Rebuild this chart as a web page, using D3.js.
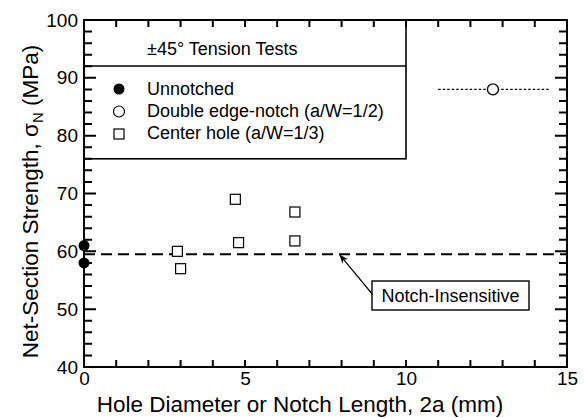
<!DOCTYPE html>
<html>
<head>
<meta charset="utf-8">
<script src="https://cdn.jsdelivr.net/npm/d3@7"></script>
<style>
  html, body { margin: 0; padding: 0; background: #fff; }
  svg { display: block; font-family: "Liberation Sans", Arial, Helvetica, sans-serif; }
</style>
</head>
<body>
<svg id="chart" width="584" height="418"></svg>
<script>
// Net-section strength of ±45° laminates vs. hole / notch size
const unnotchedX = [0, 0];
const unnotchedY = [61, 58];

const centerHoleX = [2.9, 3.0, 4.7, 4.8, 6.55, 6.55];
const centerHoleY = [60, 57, 69, 61.5, 66.8, 61.8];

const edgeNotchX = [12.7];
const edgeNotchY = [88];
const edgeNotchXMin = [11.0];
const edgeNotchXMax = [14.45];

const notchInsensitive = 59.5;

const xTicks = [0, 5, 10, 15];
const yTicks = [40, 50, 60, 70, 80, 90, 100];

const legendTitle = "±45° Tension Tests";
const legendLabels = ["Unnotched", "Double edge-notch (a/W=1/2)", "Center hole (a/W=1/3)"];

const FONT = "Liberation Sans, Arial, Helvetica, sans-serif";
const svg = d3.select("#chart");
const m = { left: 84, top: 20, right: 567, bottom: 367 };

const x = d3.scaleLinear().domain([0, 15]).range([m.left, m.right]);
const y = d3.scaleLinear().domain([40, 100]).range([m.bottom, m.top]);

const g = svg.append("g");

// Axis tick labels (tick marks drawn separately, inward)
const xAxis = d3.axisBottom(x).tickValues(xTicks).tickSize(0).tickPadding(5).tickFormat(d3.format("d"));
const xg = g.append("g").attr("transform", `translate(0,${m.bottom})`).call(xAxis);
xg.select(".domain").remove();
xg.selectAll("text").attr("font-size", 19).attr("font-family", FONT).attr("fill", "#000");

const yAxis = d3.axisLeft(y).tickValues(yTicks).tickSize(0).tickPadding(6).tickFormat(d3.format("d"));
const yg = g.append("g").attr("transform", `translate(${m.left},0)`).call(yAxis);
yg.select(".domain").remove();
yg.selectAll("text").attr("font-size", 19).attr("font-family", FONT).attr("fill", "#000");

// Axis titles
svg.append("text")
  .attr("x", 300).attr("y", 412)
  .attr("text-anchor", "middle").attr("font-size", 22.5).attr("font-family", FONT)
  .text("Hole Diameter or Notch Length, 2a (mm)");

const yt = svg.append("text")
  .attr("transform", `translate(38,${(m.top + m.bottom) / 2 + 8}) rotate(-90)`)
  .attr("text-anchor", "middle").attr("font-size", 22.5).attr("font-family", FONT);
yt.append("tspan").text("Net-Section Strength, σ");
yt.append("tspan").attr("font-size", 15).attr("dy", 5).text("N");
yt.append("tspan").attr("dy", -5).text(" (MPa)");

// Notch-insensitive reference line
g.append("line")
  .attr("x1", x(0)).attr("x2", x(15))
  .attr("y1", y(notchInsensitive)).attr("y2", y(notchInsensitive))
  .attr("stroke", "#000").attr("stroke-width", 1.8).attr("stroke-dasharray", "11,6");

// Edge-notch range bar
edgeNotchX.forEach((v, i) => {
  g.append("line")
    .attr("x1", x(edgeNotchXMin[i])).attr("x2", x(edgeNotchXMax[i]))
    .attr("y1", y(edgeNotchY[i])).attr("y2", y(edgeNotchY[i]))
    .attr("stroke", "#000").attr("stroke-width", 1.3).attr("stroke-dasharray", "2.5,2");
});

// Center hole squares
g.selectAll(".sq").data(centerHoleX).enter().append("rect")
  .attr("x", (d) => x(d) - 5).attr("y", (d, i) => y(centerHoleY[i]) - 5)
  .attr("width", 10).attr("height", 10)
  .attr("fill", "#fff").attr("stroke", "#000").attr("stroke-width", 1.2);

// Edge notch open circles
g.selectAll(".oc").data(edgeNotchX).enter().append("circle")
  .attr("cx", (d) => x(d)).attr("cy", (d, i) => y(edgeNotchY[i])).attr("r", 5.5)
  .attr("fill", "#fff").attr("stroke", "#000").attr("stroke-width", 1.3);

// Unnotched filled circles
g.selectAll(".fc").data(unnotchedX).enter().append("circle")
  .attr("cx", (d) => x(d)).attr("cy", (d, i) => y(unnotchedY[i])).attr("r", 5.5)
  .attr("fill", "#000");

// Legend box
const lgTop = m.top, lgBottom = y(76), lgRight = 406;
g.append("rect")
  .attr("x", m.left).attr("y", lgTop).attr("width", lgRight - m.left).attr("height", lgBottom - lgTop)
  .attr("fill", "#fff").attr("stroke", "#000").attr("stroke-width", 1.6);
g.append("line")
  .attr("x1", m.left).attr("x2", lgRight).attr("y1", 66).attr("y2", 66)
  .attr("stroke", "#000").attr("stroke-width", 1.6);

svg.append("text").attr("x", 147).attr("y", 55).attr("font-size", 18).attr("font-family", FONT).text(legendTitle);

const legSymY = [89, 111.5, 134];
const legTextY = [94.5, 116.5, 138.5];
legendLabels.forEach((t, i) => {
  svg.append("text").attr("x", 147).attr("y", legTextY[i]).attr("font-size", 18).attr("font-family", FONT).text(t);
});
g.append("circle").attr("cx", 119).attr("cy", legSymY[0]).attr("r", 5.5).attr("fill", "#000");
g.append("circle").attr("cx", 119).attr("cy", legSymY[1]).attr("r", 5.5).attr("fill", "#fff").attr("stroke", "#000").attr("stroke-width", 1.2);
g.append("rect").attr("x", 114).attr("y", legSymY[2] - 5).attr("width", 10).attr("height", 10)
  .attr("fill", "#fff").attr("stroke", "#000").attr("stroke-width", 1.2);

// Inward tick marks on all four sides: every 1 mm on x, every 2 MPa on y (longer at decades)
const xMinor = d3.range(0, 15.01, 1);
const yMinor = d3.range(40, 100.01, 2).filter(v => v % 10 !== 0);

const tickPath = d3.path();
xMinor.forEach(v => {
  tickPath.moveTo(x(v), m.bottom); tickPath.lineTo(x(v), m.bottom - 7);
  tickPath.moveTo(x(v), m.top); tickPath.lineTo(x(v), m.top + 7);
});
yMinor.forEach(v => {
  tickPath.moveTo(m.left, y(v)); tickPath.lineTo(m.left + 8, y(v));
  tickPath.moveTo(m.right, y(v)); tickPath.lineTo(m.right - 8, y(v));
});
yTicks.forEach(v => {
  tickPath.moveTo(m.left, y(v)); tickPath.lineTo(m.left + 12, y(v));
  tickPath.moveTo(m.right, y(v)); tickPath.lineTo(m.right - 12, y(v));
});
g.append("path")
  .attr("d", tickPath.toString())
  .attr("fill", "none").attr("stroke", "#000").attr("stroke-width", 2);

// Frame
g.append("rect")
  .attr("x", m.left).attr("y", m.top)
  .attr("width", m.right - m.left).attr("height", m.bottom - m.top)
  .attr("fill", "none").attr("stroke", "#000").attr("stroke-width", 2);

// Annotation
const annX = 372, annY = 281, annW = 157, annH = 29;
svg.append("defs").append("marker")
  .attr("id", "arrow").attr("viewBox", "0 0 10 10").attr("refX", 9).attr("refY", 5)
  .attr("markerWidth", 9).attr("markerHeight", 9).attr("markerUnits", "userSpaceOnUse").attr("orient", "auto")
  .append("path").attr("d", "M0,1 L10,5 L0,9 L3,5 Z").attr("fill", "#000");
g.append("line")
  .attr("x1", annX + 1).attr("y1", 295)
  .attr("x2", x(7.95)).attr("y2", y(notchInsensitive) + 1)
  .attr("stroke", "#000").attr("stroke-width", 1.2).attr("marker-end", "url(#arrow)");
g.append("rect").attr("x", annX).attr("y", annY).attr("width", annW).attr("height", annH)
  .attr("fill", "#fff").attr("stroke", "#000").attr("stroke-width", 1.4);
svg.append("text").attr("x", annX + annW / 2).attr("y", annY + 21)
  .attr("text-anchor", "middle").attr("font-size", 18).attr("font-family", FONT).text("Notch-Insensitive");
</script>
</body>
</html>
